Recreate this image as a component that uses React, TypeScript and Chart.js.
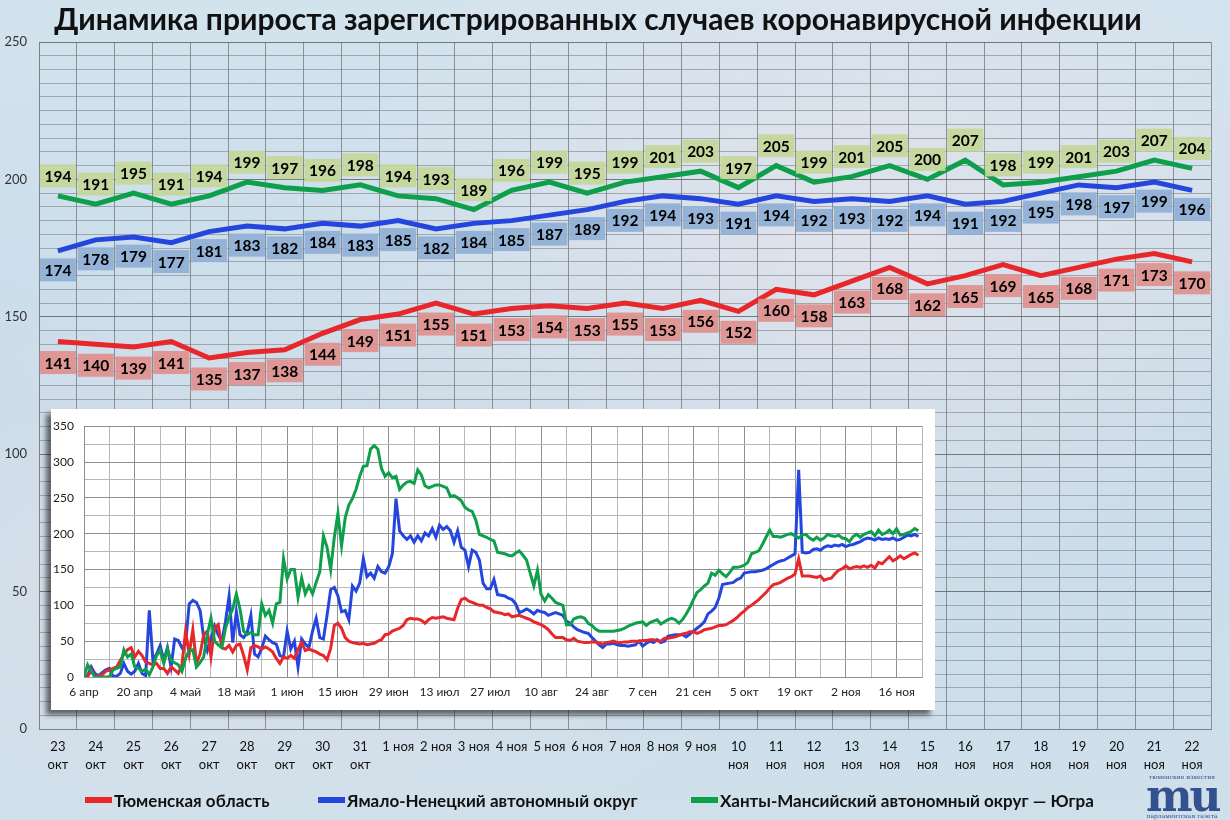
import { useEffect, useRef } from "react";
import Chart from "chart.js/auto";

// Main chart: 23 Oct – 22 Nov
const mainLabels: (string | string[])[] = [
  ["23", "окт"], ["24", "окт"], ["25", "окт"], ["26", "окт"], ["27", "окт"],
  ["28", "окт"], ["29", "окт"], ["30", "окт"], ["31", "окт"],
  "1 ноя", "2 ноя", "3 ноя", "4 ноя", "5 ноя", "6 ноя", "7 ноя", "8 ноя", "9 ноя",
  ["10", "ноя"], ["11", "ноя"], ["12", "ноя"], ["13", "ноя"], ["14", "ноя"],
  ["15", "ноя"], ["16", "ноя"], ["17", "ноя"], ["18", "ноя"], ["19", "ноя"],
  ["20", "ноя"], ["21", "ноя"], ["22", "ноя"],
];

const tyumen = [141, 140, 139, 141, 135, 137, 138, 144, 149, 151, 155, 151, 153, 154, 153, 155, 153, 156, 152, 160, 158, 163, 168, 162, 165, 169, 165, 168, 171, 173, 170];
const yanao = [174, 178, 179, 177, 181, 183, 182, 184, 183, 185, 182, 184, 185, 187, 189, 192, 194, 193, 191, 194, 192, 193, 192, 194, 191, 192, 195, 198, 197, 199, 196];
const hmao = [194, 191, 195, 191, 194, 199, 197, 196, 198, 194, 193, 189, 196, 199, 195, 199, 201, 203, 197, 205, 199, 201, 205, 200, 207, 198, 199, 201, 203, 207, 204];

// Inset: daily values 6 Apr – 22 Oct (the rest continues with the main series)
const tyumenEarly = [
  0, 0, 10, 0, 2, 3, 8, 10, 12, 14,
  23, 32, 38, 41, 28, 36, 30, 21, 19, 17,
  19, 12, 12, 5, 14, 10, 5, 17, 64, 32,
  66, 19, 32, 59, 64, 28, 68, 73, 41, 39,
  44, 35, 44, 46, 30, 10, 41, 44, 42, 39,
  42, 39, 35, 26, 19, 28, 26, 30, 26, 39,
  48, 37, 39, 37, 35, 32, 30, 24, 40, 72,
  75, 68, 55, 50, 48, 47, 46, 47, 45, 46,
  47, 50, 52, 59, 60, 64, 66, 68, 72, 80,
  82, 81, 81, 79, 75, 80, 83, 82, 83, 84,
  82, 81, 80, 96, 108, 110, 106, 104, 102, 100,
  100, 97, 95, 91, 90, 89, 87, 88, 84, 85,
  86, 84, 82, 80, 77, 75, 73, 70, 66, 60,
  55, 55, 55, 52, 51, 54, 50, 49, 48, 48,
  49, 49, 47, 46, 48, 49, 50, 48, 48, 49,
  49, 50, 50, 50, 51, 51, 52, 52, 51, 50,
  54, 54, 55, 56, 58, 60, 61, 63, 63, 61,
  63, 66, 67, 68, 70, 72, 72, 73, 76, 79,
  83, 88, 92, 97, 100, 104, 108, 113, 118, 124,
  129, 130, 132, 135, 138, 140, 144, 165, 141, 141,
];
const yanaoEarly = [
  0, 2, 14, 5, 2, 6, 10, 12, 1, 1,
  5, 19, 8, 4, 8, 19, 5, 2, 93, 23,
  32, 44, 23, 41, 14, 53, 51, 41, 46, 102,
  107, 104, 93, 55, 37, 53, 71, 59, 50, 77,
  113, 48, 91, 59, 55, 62, 86, 32, 28, 40,
  57, 52, 48, 46, 30, 28, 64, 39, 50, 14,
  53, 46, 41, 64, 82, 55, 53, 86, 122, 125,
  113, 91, 93, 80, 127, 120, 131, 165, 140, 145,
  138, 154, 147, 145, 154, 172, 249, 204, 197, 192,
  197, 188, 197, 190, 201, 197, 207, 195, 212, 206,
  210, 204, 188, 204, 181, 177, 154, 177, 174, 163,
  131, 123, 123, 136, 115, 114, 113, 110, 108, 102,
  90, 92, 95, 92, 88, 93, 91, 90, 86, 88,
  90, 88, 86, 78, 75, 70, 66, 64, 62, 61,
  55, 50, 45, 41, 46, 46, 47, 45, 44, 44,
  43, 44, 45, 50, 43, 47, 50, 48, 52, 48,
  50, 57, 58, 59, 59, 59, 56, 60, 64, 68,
  72, 77, 88, 92, 97, 110, 129, 130, 131, 132,
  136, 138, 145, 146, 147, 147, 148, 149, 151, 154,
  157, 160, 162, 163, 166, 169, 172, 289, 174, 173,
];
const hmaoEarly = [
  0, 17, 8, 0, 0, 0, 0, 0, 10, 12,
  14, 38, 28, 32, 14, 12, 8, 11, 3, 14,
  30, 37, 19, 39, 23, 20, 17, 8, 26, 37,
  38, 14, 20, 28, 60, 82, 50, 45, 41, 68,
  84, 95, 116, 95, 64, 59, 62, 59, 59, 102,
  86, 93, 75, 102, 104, 165, 137, 150, 150, 111,
  138, 116, 127, 116, 132, 147, 197, 181, 150, 195,
  228, 183, 222, 240, 249, 262, 280, 294, 295, 318,
  323, 318, 291, 280, 285, 278, 280, 262, 268, 272,
  273, 270, 289, 282, 267, 264, 266, 268, 268, 266,
  264, 252, 253, 250, 246, 237, 233, 231, 219, 199,
  197, 195, 192, 190, 174, 173, 172, 170, 169, 173,
  176, 170, 163, 145, 127, 149, 115, 106, 115, 110,
  104, 102, 100, 73, 73, 81, 83, 84, 82, 75,
  72, 67, 64, 64, 64, 64, 64, 65, 66, 68,
  71, 73, 75, 76, 77, 72, 76, 78, 80, 74,
  77, 80, 82, 80, 75, 80, 88, 97, 108, 118,
  122, 127, 131, 145, 142, 149, 144, 140, 146, 153,
  153, 154, 156, 160, 172, 174, 176, 185, 195, 205,
  196, 196, 195, 197, 199, 200, 197, 194, 198, 199,
];
const insetTickLabels = [
  "6 апр", "20 апр", "4 май", "18 май", "1 июн", "15 июн", "29 июн", "13 июл",
  "27 июл", "10 авг", "24 авг", "7 сен", "21 сен", "5 окт", "19 окт", "2 ноя", "16 ноя",
];

const RED = "#e8272a";
const BLUE = "#2446de";
const GREEN = "#0e9f4a";
const FONT = "Lato, 'Open Sans', sans-serif";

const toPoints = (vals: number[]) => vals.map((v, i) => ({ x: i, y: v }));

// draws the value boxes above / below each point
const boxLabels = {
  id: "boxLabels",
  afterDatasetsDraw(chart: any) {
    const ctx = chart.ctx;
    ctx.save();
    ctx.font = `bold 15.5px ${FONT}`;
    ctx.textAlign = "center";
    ctx.textBaseline = "middle";
    chart.data.datasets.forEach((ds: any, di: number) => {
      const meta = chart.getDatasetMeta(di);
      meta.data.forEach((pt: any, i: number) => {
        const txt = String(ds.data[i]);
        const w = ctx.measureText(txt).width + 9;
        const h = 23;
        const y = pt.y + ds.boxDy;
        ctx.fillStyle = ds.boxFill;
        ctx.fillRect(pt.x - w / 2, y - h / 2, w, h);
        ctx.fillStyle = "#000";
        ctx.fillText(txt, pt.x, y + 1);
      });
    });
    ctx.restore();
  },
};

function MainChart() {
  const canvasRef = useRef<HTMLCanvasElement>(null);

  useEffect(() => {
    if (!canvasRef.current) return;
    const chart = new Chart(canvasRef.current, {
      type: "line",
      data: {
        labels: mainLabels,
        datasets: [
          { label: "Тюменская область", data: tyumen, borderColor: RED, borderWidth: 5, pointRadius: 0, tension: 0, boxFill: "rgba(222,146,144,0.95)", boxDy: 21 } as any,
          { label: "Ямало-Ненецкий автономный округ", data: yanao, borderColor: BLUE, borderWidth: 5, pointRadius: 0, tension: 0, boxFill: "rgba(144,176,214,0.95)", boxDy: 19 } as any,
          { label: "Ханты-Мансийский автономный округ — Югра", data: hmao, borderColor: GREEN, borderWidth: 5, pointRadius: 0, tension: 0, boxFill: "rgba(196,215,155,0.95)", boxDy: -20 } as any,
        ],
      },
      options: {
        animation: false,
        responsive: true,
        maintainAspectRatio: false,
        layout: { padding: { top: 42, right: 19, bottom: 39, left: 0 } },
        plugins: {
          legend: { display: false },
          title: { display: false },
          tooltip: { enabled: false },
        },
        scales: {
          x: {
            offset: true,
            grid: { offset: true, color: "rgba(110,110,110,0.7)", drawTicks: false },
            border: { color: "#808080" },
            ticks: {
              autoSkip: false,
              maxRotation: 0,
              padding: 9,
              color: "#111",
              font: { family: FONT, size: 13, lineHeight: 1.4 },
            },
            afterFit: (s: any) => { s.height = 52; },
          },
          y: {
            min: 0,
            max: 250,
            border: { color: "#808080" },
            grid: {
              drawTicks: false,
              color: (c: any) => (c.tick && c.tick.value % 50 === 0 ? "rgba(100,100,100,0.85)" : "rgba(120,120,120,0.55)"),
            },
            ticks: {
              stepSize: 5,
              autoSkip: false,
              padding: 12,
              color: "#333",
              font: { family: FONT, size: 13 },
              callback: (v: any) => (Number(v) % 50 === 0 ? String(v) : ""),
            },
            afterFit: (s: any) => { s.width = 39; },
          },
        },
      },
      plugins: [boxLabels],
    });
    return () => chart.destroy();
  }, []);

  return (
    <div style={{ position: "absolute", left: 0, top: 0, width: 1230, height: 820 }}>
      <canvas ref={canvasRef} />
    </div>
  );
}

function InsetChart() {
  const canvasRef = useRef<HTMLCanvasElement>(null);

  useEffect(() => {
    if (!canvasRef.current) return;
    const line = (data: number[], color: string, label: string) => ({
      label,
      data: toPoints(data),
      borderColor: color,
      borderWidth: 3,
      pointRadius: 0,
      tension: 0,
    });
    const chart = new Chart(canvasRef.current, {
      type: "line",
      data: {
        datasets: [
          line([...hmaoEarly, ...hmao], GREEN, "ХМАО"),
          line([...tyumenEarly, ...tyumen], RED, "Тюменская область"),
          line([...yanaoEarly, ...yanao], BLUE, "ЯНАО"),
        ],
      },
      options: {
        animation: false,
        responsive: true,
        maintainAspectRatio: false,
        layout: { padding: { top: 9, right: 13, bottom: 0, left: 0 } },
        plugins: { legend: { display: false }, tooltip: { enabled: false } },
        scales: {
          x: {
            type: "linear",
            min: 0,
            max: 231,
            grid: {
              drawTicks: false,
              color: (c: any) => (c.tick && c.tick.value % 14 === 0 ? "#8f8f8f" : "#b8b8b8"),
            },
            border: { color: "#8f8f8f" },
            ticks: {
              stepSize: 7,
              autoSkip: false,
              maxRotation: 0,
              padding: 8,
              color: "#222",
              font: { family: FONT, size: 12 },
              callback: (v: any) => (Number(v) % 14 === 0 ? insetTickLabels[Number(v) / 14] ?? "" : ""),
            },
            afterFit: (s: any) => { s.height = 33; },
          },
          y: {
            min: 0,
            max: 350,
            grid: {
              drawTicks: false,
              color: (c: any) => (c.tick && c.tick.value % 50 === 0 ? "#8f8f8f" : "#b8b8b8"),
            },
            border: { color: "#8f8f8f" },
            ticks: {
              stepSize: 25,
              autoSkip: false,
              padding: 10,
              color: "#222",
              font: { family: FONT, size: 12 },
              callback: (v: any) => (Number(v) % 50 === 0 ? String(v) : ""),
            },
            afterFit: (s: any) => { s.width = 33; },
          },
        },
      },
    });
    return () => chart.destroy();
  }, []);

  return (
    <div
      style={{
        position: "absolute",
        left: 51,
        top: 409,
        width: 884,
        height: 301,
        background: "#fff",
        boxShadow: "-5px 5px 5px rgba(0,0,0,0.55)",
      }}
    >
      <canvas ref={canvasRef} />
    </div>
  );
}

const legendItems = [
  { text: "Тюменская область", color: RED, left: 85 },
  { text: "Ямало-Ненецкий автономный округ", color: BLUE, left: 318 },
  { text: "Ханты-Мансийский автономный округ — Югра", color: GREEN, left: 691 },
];

export default function App() {
  return (
    <div
      style={{
        position: "absolute",
        left: 0,
        top: 0,
        width: 1230,
        height: 820,
        overflow: "hidden",
        fontFamily: FONT,
        background:
          "radial-gradient(ellipse at 70% 30%, rgba(235,228,235,0.6) 0%, rgba(235,228,235,0) 45%), radial-gradient(ellipse at 20% 70%, rgba(230,225,232,0.5) 0%, rgba(230,225,232,0) 40%), linear-gradient(180deg, #d3e3ee 0%, #c9dcea 50%, #cfe0eb 100%)",
      }}
    >
      <MainChart />
      <InsetChart />
      <div
        style={{
          position: "absolute",
          left: 0,
          top: 0,
          width: 1196,
          textAlign: "center",
          fontSize: 30,
          fontWeight: 700,
          lineHeight: "36px",
          color: "#111",
        }}
      >
        Динамика прироста зарегистрированных случаев коронавирусной инфекции
      </div>
      {legendItems.map((it) => (
        <div
          key={it.text}
          style={{ position: "absolute", left: it.left, top: 789, height: 22, display: "flex", alignItems: "center" }}
        >
          <span style={{ display: "inline-block", width: 27, height: 6, background: it.color, marginRight: 2 }} />
          <span style={{ fontSize: 17, fontWeight: 700, color: "#111", whiteSpace: "nowrap" }}>{it.text}</span>
        </div>
      ))}
      <div style={{ position: "absolute", left: 1146, top: 773, width: 72, textAlign: "center", color: "#34518f" }}>
        <div style={{ fontSize: 6, lineHeight: "7px", fontFamily: "'DejaVu Serif', serif" }}>тюменские известия</div>
        <div style={{ fontSize: 44, lineHeight: "32px", fontWeight: 700, fontFamily: "'DejaVu Serif', serif", letterSpacing: -3 }}>mu</div>
        <div style={{ fontSize: 6, lineHeight: "7px", fontFamily: "'DejaVu Serif', serif" }}>парламентская газета</div>
      </div>
    </div>
  );
}
